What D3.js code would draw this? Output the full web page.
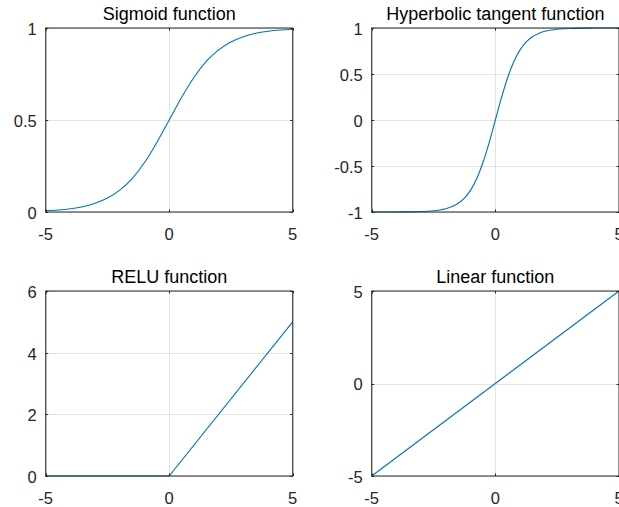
<!DOCTYPE html>
<html>
<head>
<meta charset="utf-8">
<script src="https://cdn.jsdelivr.net/npm/d3@7"></script>
<style>
  body { margin: 0; background: #fff; }
  svg text { font-family: "Liberation Sans", Arial, Helvetica, sans-serif; fill: #262626; }
</style>
</head>
<body>
<div id="chart"></div>
<script>
var sigX = [-5, -4.5, -4, -3.5, -3, -2.5, -2, -1.5, -1, -0.5, 0, 0.5, 1, 1.5, 2, 2.5, 3, 3.5, 4, 4.5, 5];
var sigY = [0.0067, 0.011, 0.018, 0.029, 0.047, 0.076, 0.119, 0.182, 0.269, 0.378, 0.5, 0.622, 0.731, 0.818, 0.881, 0.924, 0.953, 0.971, 0.982, 0.989, 0.993];

var tanhX = [-5, -4, -3.5, -3, -2.75, -2.5, -2.25, -2, -1.75, -1.5, -1.25, -1, -0.75, -0.5, -0.25, 0,
             0.25, 0.5, 0.75, 1, 1.25, 1.5, 1.75, 2, 2.25, 2.5, 2.75, 3, 3.5, 4, 5];
var tanhY = [-0.9999, -0.9993, -0.9982, -0.995, -0.9918, -0.987, -0.978, -0.964, -0.9414, -0.905, -0.8483, -0.762, -0.6351, -0.462, -0.2449, 0,
             0.2449, 0.462, 0.6351, 0.762, 0.8483, 0.905, 0.9414, 0.964, 0.978, 0.987, 0.9918, 0.995, 0.9982, 0.9993, 0.9999];

var reluX = [-5, 0, 5];
var reluY = [0, 0, 5];

var linX = [-5, 5];
var linY = [-5, 5];

var titles = ["Sigmoid function", "Hyperbolic tangent function", "RELU function", "Linear function"];
var xTicks = [-5, 0, 5];
var yTickSets = [[0, 0.5, 1], [-1, -0.5, 0, 0.5, 1], [0, 2, 4, 6], [-5, 0, 5]];
var yDomains = [[0, 1], [-1, 1], [0, 6], [-5, 5]];

var W = 619, H = 507;
var cols = [[45.7, 292.7], [371.7, 619]];
var rows = [[28, 212], [291, 476]];

var svg = d3.select("#chart").append("svg")
    .attr("width", W)
    .attr("height", H);

var series = [
    d3.zip(sigX, sigY),
    d3.zip(tanhX, tanhY),
    d3.zip(reluX, reluY),
    d3.zip(linX, linY)
];
// smooth curves for the first two, straight segments for relu / linear
var curves = [d3.curveMonotoneX, d3.curveMonotoneX, d3.curveLinear, d3.curveLinear];

series.forEach(function (pts, i) {
    var c = cols[i % 2], r = rows[Math.floor(i / 2)];
    var x = d3.scaleLinear().domain([-5, 5]).range(c);
    var y = d3.scaleLinear().domain(yDomains[i]).range([r[1], r[0]]);
    var g = svg.append("g");
    var tl = 2.5;

    // grid
    g.selectAll(".gx").data(xTicks).enter().append("line")
        .attr("x1", function (d) { return Math.round(x(d)) + 0.5; })
        .attr("x2", function (d) { return Math.round(x(d)) + 0.5; })
        .attr("y1", r[0]).attr("y2", r[1])
        .attr("stroke", "#e3e3e3").attr("stroke-width", 1);
    g.selectAll(".gy").data(yTickSets[i]).enter().append("line")
        .attr("x1", c[0]).attr("x2", c[1])
        .attr("y1", function (d) { return Math.round(y(d)) + 0.5; })
        .attr("y2", function (d) { return Math.round(y(d)) + 0.5; })
        .attr("stroke", "#e3e3e3").attr("stroke-width", 1);

    // curve
    g.append("path")
        .datum(pts)
        .attr("fill", "none")
        .attr("stroke", "#0072BD")
        .attr("stroke-width", 1.1)
        .attr("d", d3.line()
            .x(function (d) { return x(d[0]); })
            .y(function (d) { return y(d[1]); })
            .curve(curves[i]));

    // inward ticks on all four sides
    yTickSets[i].forEach(function (d) {
        var yy = Math.round(y(d)) + 0.5;
        g.append("line").attr("x1", c[0]).attr("x2", c[0] + tl).attr("y1", yy).attr("y2", yy).attr("stroke", "#262626");
        g.append("line").attr("x1", c[1]).attr("x2", c[1] - tl).attr("y1", yy).attr("y2", yy).attr("stroke", "#262626");
    });
    xTicks.forEach(function (d) {
        var xx = Math.round(x(d)) + 0.5;
        g.append("line").attr("x1", xx).attr("x2", xx).attr("y1", r[1]).attr("y2", r[1] - tl).attr("stroke", "#262626");
        g.append("line").attr("x1", xx).attr("x2", xx).attr("y1", r[0]).attr("y2", r[0] + tl).attr("stroke", "#262626");
    });

    // box
    g.append("rect")
        .attr("x", c[0]).attr("y", r[0])
        .attr("width", c[1] - c[0]).attr("height", r[1] - r[0])
        .attr("fill", "none")
        .attr("stroke", "#262626")
        .attr("stroke-width", 1);

    // tick labels
    g.selectAll(".xl").data(xTicks).enter().append("text")
        .attr("x", function (d) { return x(d); })
        .attr("y", r[1] + 28)
        .attr("text-anchor", "middle")
        .style("font-size", "16.5px")
        .text(function (d) { return d; });
    g.selectAll(".yl").data(yTickSets[i]).enter().append("text")
        .attr("x", c[0] - 9)
        .attr("y", function (d) { return y(d); })
        .attr("dy", "0.42em")
        .attr("text-anchor", "end")
        .style("font-size", "16.5px")
        .text(function (d) { return d; });

    // title
    g.append("text")
        .attr("x", (c[0] + c[1]) / 2)
        .attr("y", r[0] - 8)
        .attr("text-anchor", "middle")
        .style("font-size", "18px")
        .style("fill", "#000")
        .text(titles[i]);
});
</script>
</body>
</html>
